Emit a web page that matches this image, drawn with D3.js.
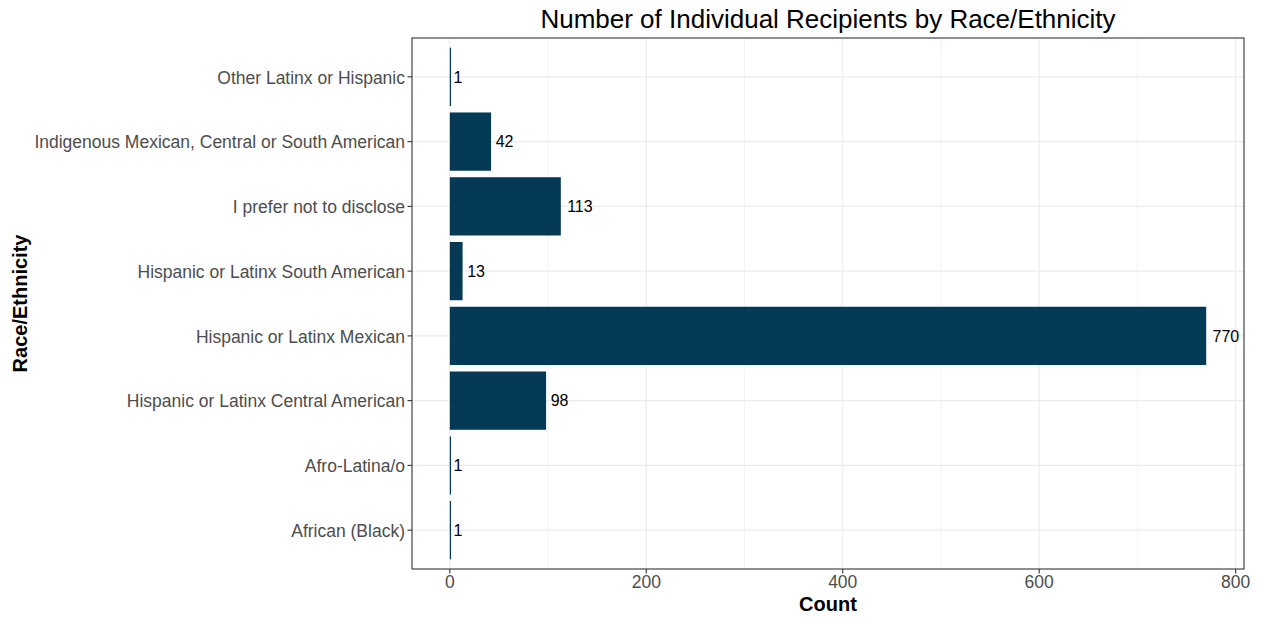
<!DOCTYPE html>
<html><head><meta charset="utf-8">
<script src="https://cdn.jsdelivr.net/npm/d3@7"></script>
<style>body{margin:0;background:#fff;} text{font-family:"Liberation Sans",Arial,sans-serif;}</style>
</head><body>
<svg id="c" width="1262" height="617"></svg>
<script>
const categories = ["African (Black)","Afro-Latina/o","Hispanic or Latinx Central American","Hispanic or Latinx Mexican","Hispanic or Latinx South American","I prefer not to disclose","Indigenous Mexican, Central or South American","Other Latinx or Hispanic"];
const counts = [1,1,98,770,13,113,42,1];
const xTicks = [0,200,400,600,800];
const xMinor = [100,300,500,700];

const svg = d3.select("#c");
const L=412,R=1244,T=38,B=569;
const maxV = d3.max(counts);
const x = d3.scaleLinear().domain([-0.05*maxV, maxV*1.05]).range([L,R]);
const n = categories.length;
const step = (B-T)/(n-1+1.2);
const yc = d3.scaleLinear().domain([0,n-1]).range([B-0.6*step, T+0.6*step]);

const g = svg.append("g");
g.selectAll(".mx").data(xMinor).join("line").attr("x1",d=>x(d)).attr("x2",d=>x(d)).attr("y1",T).attr("y2",B).attr("stroke","#ebebeb").attr("stroke-width",0.6);
g.selectAll(".gx").data(xTicks).join("line").attr("x1",d=>x(d)).attr("x2",d=>x(d)).attr("y1",T).attr("y2",B).attr("stroke","#ebebeb").attr("stroke-width",1.1);
g.selectAll(".gy").data(categories).join("line").attr("x1",L).attr("x2",R).attr("y1",(d,i)=>yc(i)).attr("y2",(d,i)=>yc(i)).attr("stroke","#ebebeb").attr("stroke-width",1.1);

const bh = step*0.9;
g.selectAll(".bar").data(counts).join("rect")
 .attr("x",x(0)).attr("width",d=>Math.max(x(d)-x(0),1.2))
 .attr("y",(d,i)=>yc(i)-bh/2).attr("height",bh)
 .attr("fill","#053a56");
g.selectAll(".lbl").data(counts).join("text")
 .attr("x",d=>x(d)+1+0.2*String(d).length*8.9).attr("y",(d,i)=>yc(i)).attr("dy","0.36em")
 .attr("font-size",16).attr("fill","#000").text(d=>d);

g.append("rect").attr("x",L).attr("y",T).attr("width",R-L).attr("height",B-T).attr("fill","none").attr("stroke","#333").attr("stroke-width",1.1);

g.selectAll(".yt").data(categories).join("line").attr("x1",L-4.5).attr("x2",L).attr("y1",(d,i)=>yc(i)).attr("y2",(d,i)=>yc(i)).attr("stroke","#333").attr("stroke-width",1.1);
g.selectAll(".yl").data(categories).join("text").attr("x",L-7).attr("y",(d,i)=>yc(i)).attr("dy","0.38em").attr("text-anchor","end").attr("font-size",17.5).attr("fill","#4d4d4d").text(d=>d);
g.selectAll(".xt").data(xTicks).join("line").attr("x1",d=>x(d)).attr("x2",d=>x(d)).attr("y1",B).attr("y2",B+4.5).attr("stroke","#333").attr("stroke-width",1.1);
g.selectAll(".xl").data(xTicks).join("text").attr("x",d=>x(d)).attr("y",B+19).attr("text-anchor","middle").attr("font-size",17.5).attr("fill","#4d4d4d").text(d=>d);

svg.append("text").attr("x",(L+R)/2).attr("y",611).attr("text-anchor","middle").attr("font-size",20).attr("font-weight","bold").attr("fill","#000").text("Count");
svg.append("text").attr("transform",`translate(27,${(T+B)/2}) rotate(-90)`).attr("text-anchor","middle").attr("font-size",20).attr("font-weight","bold").attr("fill","#000").text("Race/Ethnicity");
svg.append("text").attr("x",(L+R)/2).attr("y",28).attr("text-anchor","middle").attr("font-size",26).attr("fill","#000").text("Number of Individual Recipients by Race/Ethnicity");
</script>
</body></html>
